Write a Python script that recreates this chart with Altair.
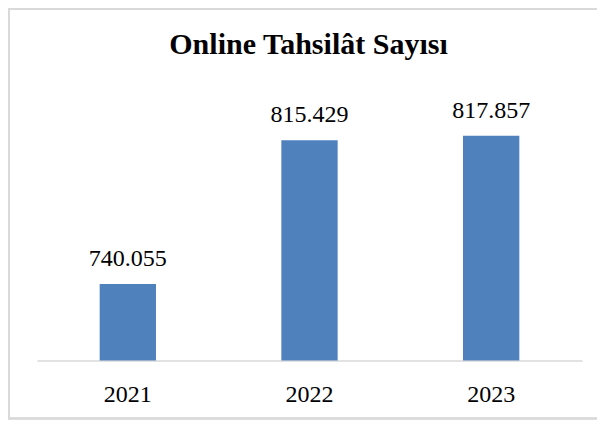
import altair as alt
import pandas as pd

years = ["2021", "2022", "2023"]
values = [740055, 815429, 817857]
title_text = "Online Tahsilât Sayısı"

df = pd.DataFrame({"year": years, "value": values})
df["label"] = [f"{v:,}".replace(",", ".") for v in values]

FONT = "Liberation Serif"
W, H = 545, 267
YMIN, YMAX = 700000, 840000

base = alt.Chart(df)

x = alt.X("year:N", title=None, sort=years,
          scale=alt.Scale(paddingInner=0.69, paddingOuter=0.345),
          axis=alt.Axis(labelAngle=0, labelFont=FONT, labelFontSize=24,
                        labelColor="#000000", labelPadding=22, ticks=False,
                        domainColor="#d9d9d9", domainWidth=1.5, grid=False))
y = alt.Y("value:Q", title=None,
          scale=alt.Scale(domain=[YMIN, YMAX], zero=False, nice=False),
          axis=None)

bars = base.mark_bar(color="#4f81bd").encode(x=x, y=y, y2=alt.datum(YMIN))

labels = base.mark_text(font=FONT, fontSize=24, color="#000000",
                        baseline="alphabetic", dy=-18).encode(
    x=alt.X("year:N", sort=years), y="value:Q", text="label:N")

border = base.mark_rect(fill=None, stroke="#d9d9d9", strokeWidth=2).encode(
    x=alt.value(-28), x2=alt.value(W + 40),
    y=alt.value(-84.5), y2=alt.value(H + 58))

title = alt.Chart(pd.DataFrame({"t": [title_text]})).mark_text(
    font=FONT, fontSize=30, fontWeight="bold", color="#000000",
    baseline="middle", align="center").encode(
    x=alt.value(W / 2 - 1), y=alt.value(-49), text="t:N")

chart = alt.layer(border, bars, labels, title).properties(
    width=W, height=H,
    autosize=alt.AutoSizeParams(type="none"),
    padding={"left": 29, "top": 85.5, "right": 15, "bottom": 61},
).configure(background="#ffffff", view=alt.ViewConfig(stroke=None))

chart.save("out.html", embed_options={"renderer": "svg", "actions": False})
